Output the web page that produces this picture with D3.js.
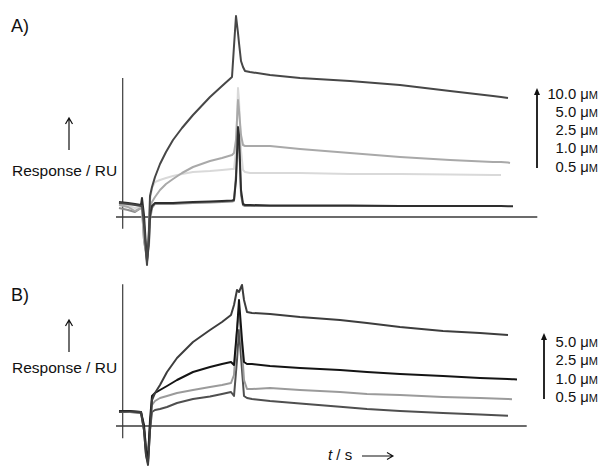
<!DOCTYPE html>
<html><head><meta charset="utf-8">
<script src="https://cdn.jsdelivr.net/npm/d3@7"></script>
<style>body{margin:0;background:#fff}svg{display:block;font-family:"Liberation Sans",Arial,sans-serif}</style>
</head><body>
<svg id="c" width="599" height="466"></svg>
<script>
// ---- Panel A data (time / s, response / RU) ----
const timeA = [-3,6,13,19,20,22,25,27,28,30,33,38,44,51,60,71,88,100,110,112,114,116,117,119,121,123,128,148,178,228,278,328,371,379,386,388,391];
const a10  = [14,13,12,11,11,-8,-48,-13,21,30,40,53,65,77,89,102,120,131,140,171,201,184,174,156,150,146,145,142,139,136,132,126,121,120,119,null,null];
const a5   = [12,10,6,9,9,-23,-41,-18,9,15,20,27,33,38,44,50,56,59,62,64,77,117,107,82,72,71,71,71,68,64,60,57,55,55,54.5,54,null];
const a2_5 = [13,11,9,10,10,-18,-38,-8,17,29,35,37,39,41,43,45,46,47,48,48,67,129,117,67,47,45,44,44,44,43,43,42.5,42,42,null,null,null];
const a1   = [15,14,13,12,19,2,-45,-23,2,11,14,14,14,14,14.5,15,15.5,16,16.5,17,37,90,82,27,13,12,12,11.5,11.5,11.5,11,11,11,11,10.7,10.7,10.7];
const a0_5 = [9,7,5,9,9,-23,-43,-28,-3,9,13,13,13,13,13.5,14,14.5,15,15.5,16,42,82,77,22,12,11,11,11,11,11,11,11,11,null,null,null,null];
const labelsA = ["10.0","5.0","2.5","1.0","0.5"];

// ---- Panel B data ----
const timeB = [-3,8,19,22,24,26,28,30,33,38,45,55,71,88,100,109,112,115,117,120,122,125,130,148,178,218,245,278,321,358,386,390,392,395];
const b5   = [14.5,14.5,14,-4,-29,-39,-4,26,33,41,54,68,84,96,104,111,121,136,134,141,126,114,113,112,109,106,103,99,95,93,91,null,null,null];
const b2_5 = [15,15,14,1,-24,-34,6,30,33,36,40,46,54,59,62,64,61,96,126,86,64,62,62,60,58,56,54,52,50,48,47,46.7,46.7,46.5];
const b1   = [15,14,14,-2,-19,-29,1,21,25,28,30,33,36,39,41,43,51,96,116,76,46,37,37,38,36,34,32,31,29,28,27,26.8,null,null];
const b0_5 = [14,14,13,-4,-29,-37,-4,14,16,17,19,23,27,29.5,32,34,30,66,96,56,30,28,27,25,22.5,19.3,17,15,13,11.5,10.3,null,null,null];
const labelsB = ["5.0","2.5","1.0","0.5"];

const svg = d3.select("#c");

function panel(cfg){
  const x = d3.scaleLinear().domain([-6,416]).range([116,538]);
  const y = d3.scaleLinear().domain([0,200]).range([cfg.y0, cfg.y0-200]);
  const g = svg.append("g");
  g.append("line").attr("x1",x(0.7)).attr("x2",x(0.7)).attr("y1",y(cfg.yAxis[0])).attr("y2",y(cfg.yAxis[1]))
    .attr("stroke","#3a3a3a").attr("stroke-width",1.2);
  g.append("line").attr("x1",x(-6)).attr("x2",x(cfg.xEnd)).attr("y1",y(0)).attr("y2",y(0))
    .attr("stroke","#3a3a3a").attr("stroke-width",1.3);
  const line = d3.line().defined(d=>d[1]!=null).x(d=>x(d[0])).y(d=>y(d[1]));
  cfg.series.forEach(s=>{
    g.append("path").datum(cfg.time.map((t,i)=>[t,s.v[i]]))
      .attr("d",line).attr("fill","none").attr("stroke",s.c).attr("stroke-width",s.w||2)
      .attr("stroke-linejoin","round");
  });
  g.append("text").attr("x",11).attr("y",cfg.labY).attr("font-size",18).attr("fill","#111").text(cfg.label);
  g.append("text").attr("x",12).attr("y",cfg.respY).attr("font-size",15.5).attr("fill","#111").text("Response / RU");
  const ax=69;
  g.append("path").attr("d",`M${ax},${cfg.respArrow[0]}V${cfg.respArrow[1]}M${ax-3.5},${cfg.respArrow[1]+6}L${ax},${cfg.respArrow[1]}L${ax+3.5},${cfg.respArrow[1]+6}`)
    .attr("fill","none").attr("stroke","#111").attr("stroke-width",1.2);
  const lg = cfg.legend;
  g.append("line").attr("x1",lg.ax).attr("x2",lg.ax).attr("y1",lg.a0).attr("y2",lg.a1+6).attr("stroke","#111").attr("stroke-width",1.8);
  g.append("path").attr("d",`M${lg.ax-3},${lg.a1+7}L${lg.ax},${lg.a1}L${lg.ax+3},${lg.a1+7}Z`).attr("fill","#111");
  cfg.labels.forEach((l,i)=>{
    const t = g.append("text").attr("x",598).attr("y",lg.base+i*18.3).attr("text-anchor","end")
      .attr("font-size",14.8).attr("fill","#111");
    t.append("tspan").text(l+" μ");
    t.append("tspan").attr("font-size",11).text("M");
  });
}

panel({
  y0:217, yAxis:[-11.7,139], xEnd:415.3, time:timeA, label:"A)", labY:32, respY:176, respArrow:[150,118],
  series:[
    {v:a0_5,c:"#8c8c8c"},
    {v:a2_5,c:"#d9d9d9"},
    {v:a5,c:"#a9a9a9"},
    {v:a1,c:"#2e2e2e"},
    {v:a10,c:"#474747"}
  ],
  labels:labelsA, legend:{ax:537,a0:168,a1:88,base:98.5}
});
panel({
  y0:426, yAxis:[-12.3,141.7], xEnd:404.7, time:timeB, label:"B)", labY:301, respY:373, respArrow:[352,320],
  series:[
    {v:b0_5,c:"#4f4f4f"},
    {v:b1,c:"#9b9b9b"},
    {v:b2_5,c:"#141414"},
    {v:b5,c:"#3d3d3d"}
  ],
  labels:labelsB, legend:{ax:544,a0:399,a1:333,base:347}
});

const tl = svg.append("text").attr("x",328).attr("y",460).attr("font-size",15).attr("fill","#111");
tl.append("tspan").attr("font-style","italic").text("t");
tl.append("tspan").text(" / s");
svg.append("path").attr("d","M362,456H393M387,452.5L393,456L387,459.5").attr("fill","none").attr("stroke","#111").attr("stroke-width",1.1);
</script>
</body></html>
